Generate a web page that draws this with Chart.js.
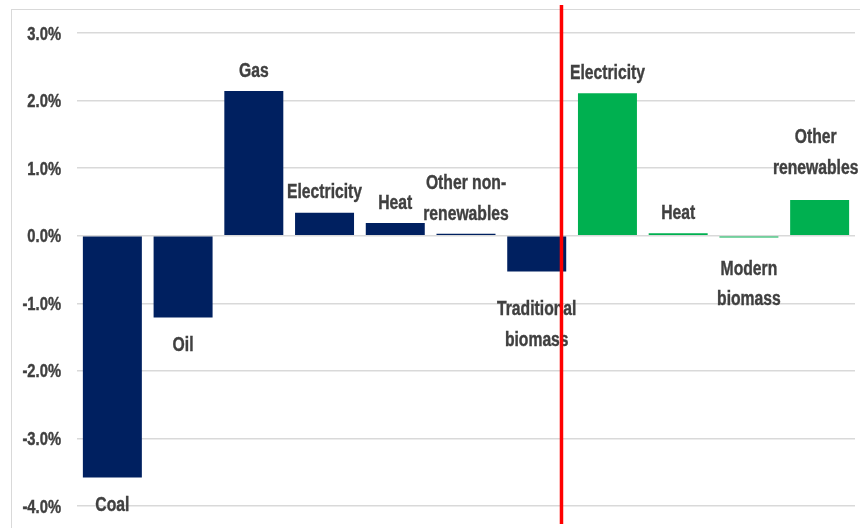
<!DOCTYPE html>
<html>
<head>
<meta charset="utf-8">
<script src="https://cdn.jsdelivr.net/npm/chart.js@4.4.1/dist/chart.umd.min.js"></script>
<style>
  html, body { margin: 0; padding: 0; background: #fff; }
  #wrap { width: 860px; height: 528px; position: relative; }
</style>
</head>
<body>
<div id="wrap"><canvas id="chart"></canvas></div>
<script>
// ─── DATA
const CATEGORIES = [
  "Coal", "Oil", "Gas", "Electricity", "Heat", "Other non-renewables",
  "Traditional biomass", "Electricity", "Heat", "Modern biomass", "Other renewables",
];
const LABEL_LINES = [
  ["Coal"], ["Oil"], ["Gas"], ["Electricity"], ["Heat"], ["Other non-", "renewables"],
  ["Traditional", "biomass"], ["Electricity"], ["Heat"], ["Modern", "biomass"], ["Other", "renewables"],
];
const VALUES = [-3.58, -1.21, 2.14, 0.34, 0.19, 0.03, -0.53, 2.11, 0.035, -0.025, 0.53];
const SECTOR = [
  "non-renewable", "non-renewable", "non-renewable", "non-renewable", "non-renewable",
  "non-renewable", "non-renewable", "renewable", "renewable", "renewable", "renewable",
];
const Y_TICKS = [-4, -3, -2, -1, 0, 1, 2, 3];
const DIVIDER_AT = 6.35; // category index where the red divider sits

// ─── STYLE
const NAVY = "#002060";
const GREEN = "#00B050";
const TEXT = "#404040";
const FONT = "'Liberation Sans', Arial, sans-serif";
// label gap (px) from bar end, and x nudge
const LABEL_GAP = [19, 19.5, 14, 14.5, 14.3, 14, 29.5, 14, 14.4, 23, 26];
const LABEL_DX = [0, 0, 0, 0, 0, 0, 0, 0, 0, 0, -4];
const LINE_H = 30.6;

// squeezed bold text, narrow-font look
function narrowText(ctx, text, x, y, align, sx) {
  ctx.save();
  ctx.translate(x, y);
  ctx.scale(sx, 1);
  ctx.textAlign = align;
  ctx.fillText(text, 0, 0);
  ctx.strokeText(text, 0, 0);
  ctx.restore();
}

const labelPlugin = {
  id: "barLabels",
  beforeDraw(chart) {
    const { ctx } = chart;
    ctx.save();
    ctx.strokeStyle = "#D9D9D9";
    ctx.lineWidth = 1;
    ctx.strokeRect(11.5, 9.5, chart.width + 20, chart.height + 20);
    ctx.restore();
  },
  afterDatasetsDraw(chart) {
    const { ctx } = chart;
    const y = chart.scales.y;
    ctx.save();
    ctx.fillStyle = TEXT;
    ctx.strokeStyle = TEXT;
    ctx.lineWidth = 0.4;
    ctx.textBaseline = "alphabetic";

    // y tick labels
    ctx.font = "bold 18px " + FONT;
    Y_TICKS.forEach((v) => {
      narrowText(ctx, v.toFixed(1) + "%", y.right - 16, y.getPixelForValue(v) + 6.5, "right", 0.82);
    });

    // bar labels
    ctx.font = "bold 20px " + FONT;
    const cap = 14.3;
    chart.getDatasetMeta(0).data.forEach((bar, i) => {
      const lines = LABEL_LINES[i];
      const x = bar.x + LABEL_DX[i];
      if (VALUES[i] >= 0) {
        const lastBase = bar.y - LABEL_GAP[i];
        lines.forEach((t, k) => {
          narrowText(ctx, t, x, lastBase - (lines.length - 1 - k) * LINE_H, "center", 0.785);
        });
      } else {
        const firstBase = bar.y + LABEL_GAP[i] + cap;
        lines.forEach((t, k) => narrowText(ctx, t, x, firstBase + k * LINE_H, "center", 0.785));
      }
    });
    ctx.restore();
  },
  afterDraw(chart) {
    const { ctx } = chart;
    const x = chart.scales.x.getPixelForValue(DIVIDER_AT);
    ctx.save();
    ctx.strokeStyle = "#FF0000";
    ctx.lineWidth = 3.5;
    ctx.beginPath();
    ctx.moveTo(x, 5);
    ctx.lineTo(x, 524);
    ctx.stroke();
    ctx.restore();
  },
};

new Chart(document.getElementById("chart").getContext("2d"), {
  type: "bar",
  data: {
    labels: CATEGORIES,
    datasets: [
      {
        data: VALUES,
        backgroundColor: SECTOR.map((s) => (s === "renewable" ? GREEN : NAVY)),
        barPercentage: 0.834,
        categoryPercentage: 1,
      },
    ],
  },
  options: {
    responsive: true,
    maintainAspectRatio: false,
    animation: false,
    layout: { padding: { left: 0, right: 5, top: 33, bottom: 22 } },
    plugins: {
      legend: { display: false },
      tooltip: { enabled: false },
    },
    scales: {
      x: { display: false },
      y: {
        min: -4,
        max: 3,
        afterBuildTicks: (scale) => {
          scale.ticks = Y_TICKS.map((v) => ({ value: v }));
        },
        afterFit: (scale) => {
          scale.width = 77;
          scale.paddingTop = 0;
          scale.paddingBottom = 0;
        },
        grid: { color: "#D9D9D9", lineWidth: 1.5, drawTicks: false },
        border: { display: false },
        ticks: { display: false },
      },
    },
  },
  plugins: [labelPlugin],
});
</script>
</body>
</html>
